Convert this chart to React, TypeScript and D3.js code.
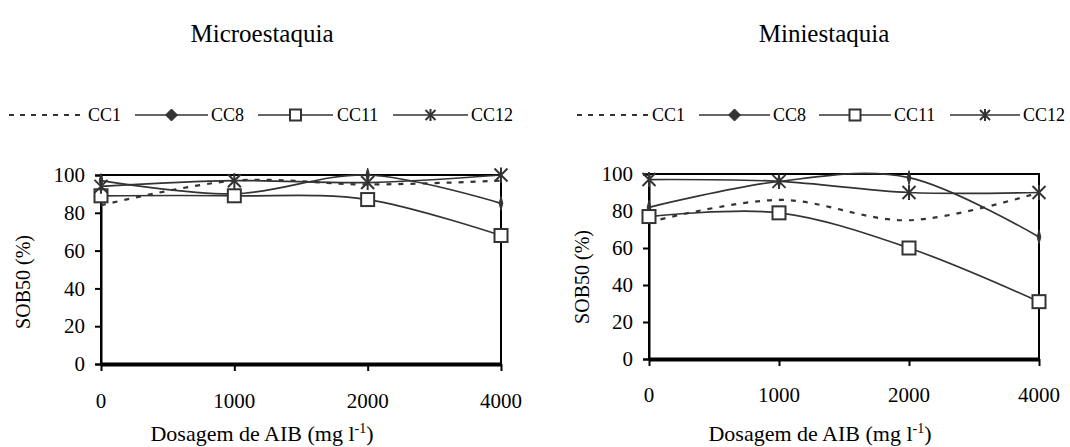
import React, { useEffect, useRef } from 'react';
import * as d3 from 'd3';

// dose categories (x axis) and y ticks
const doses = ['0', '1000', '2000', '4000'];
const yTicks = [0, 20, 40, 60, 80, 100];
const seriesNames = ['CC1', 'CC8', 'CC11', 'CC12'];

// Microestaquia
const microCC1 = [84, 97, 95, 97];
const microCC8 = [97, 90, 100, 85];
const microCC11 = [89, 89, 87, 68];
const microCC12 = [94, 97, 96, 100];

// Miniestaquia
const miniCC1 = [74, 86, 75, 90];
const miniCC8 = [82, 96, 98, 66];
const miniCC11 = [77, 79, 60, 31];
const miniCC12 = [97, 96, 90, 90];

const panelTitles = ['Microestaquia', 'Miniestaquia'];
const yTitle = 'SOB50 (%)';
const xTitle = 'Dosagem de AIB (mg l';

const FONT = '"Liberation Serif", "Times New Roman", serif';
const INK = '#333';

const App = () => {
  const ref = useRef(null);

  useEffect(() => {
    const svg = d3.select(ref.current);
    svg.selectAll('*').remove();

    const panels = [
      {
        title: panelTitles[0],
        data: [microCC1, microCC8, microCC11, microCC12],
        left: 101, right: 501, top: 175, bottom: 364,
        titleX: 262, titleY: 42,
        legendY: 115,
        legend: [[9, 83, 88], [135, 208, 211], [258, 333, 337], [393, 468, 471]],
        xLabelY: 408, xTitleX: 262, xTitleY: 441,
        yTitleX: 30, yTitleY: 282,
      },
      {
        title: panelTitles[1],
        data: [miniCC1, miniCC8, miniCC11, miniCC12],
        left: 649, right: 1039, top: 174, bottom: 359,
        titleX: 824, titleY: 42,
        legendY: 115,
        legend: [[577, 648, 652], [699, 770, 773], [819, 891, 894], [950, 1020, 1023]],
        xLabelY: 402, xTitleX: 820, xTitleY: 441,
        yTitleX: 589, yTitleY: 277,
      },
    ];

    const diamondSmall = 'M0,-7L1.8,0L0,7L-1.8,0Z';
    const diamondLegend = 'M0,-6L6,0L0,6L-6,0Z';

    const drawMarker = (g, idx, x, y, legend) => {
      if (idx === 1) {
        g.append('path')
          .attr('d', legend ? diamondLegend : diamondSmall)
          .attr('transform', `translate(${x},${y})`)
          .attr('fill', INK)
          .attr('stroke', INK)
          .attr('stroke-width', 1);
      } else if (idx === 2) {
        const s = legend ? 11 : 13;
        g.append('rect')
          .attr('x', x - s / 2)
          .attr('y', y - s / 2)
          .attr('width', s)
          .attr('height', s)
          .attr('fill', 'white')
          .attr('stroke', INK)
          .attr('stroke-width', 2);
      } else if (idx === 3) {
        const r = legend ? 5 : 6.5;
        const m = g.append('g').attr('transform', `translate(${x},${y})`)
          .attr('stroke', INK).attr('stroke-width', 2);
        m.append('line').attr('x1', -r).attr('y1', -r).attr('x2', r).attr('y2', r);
        m.append('line').attr('x1', -r).attr('y1', r).attr('x2', r).attr('y2', -r);
        m.append('line').attr('x1', 0).attr('y1', -r - 1).attr('x2', 0).attr('y2', r + 1);
      }
    };

    panels.forEach(p => {
      const g = svg.append('g');
      const x = d3.scalePoint().domain(doses).range([p.left, p.right]);
      const y = d3.scaleLinear().domain([0, 100]).range([p.bottom, p.top]);

      // title
      g.append('text')
        .attr('x', p.titleX)
        .attr('y', p.titleY)
        .attr('text-anchor', 'middle')
        .style('font-family', FONT)
        .style('font-size', '25px')
        .text(p.title);

      // legend
      seriesNames.forEach((name, i) => {
        const [l0, l1, tx] = p.legend[i];
        g.append('line')
          .attr('x1', l0).attr('x2', l1)
          .attr('y1', p.legendY).attr('y2', p.legendY)
          .attr('stroke', INK)
          .attr('stroke-width', i === 0 ? 2 : 1.6)
          .attr('stroke-dasharray', i === 0 ? '5,6' : null);
        drawMarker(g, i, (l0 + l1) / 2, p.legendY, true);
        g.append('text')
          .attr('x', tx)
          .attr('y', p.legendY + 6)
          .style('font-family', FONT)
          .style('font-size', '18px')
          .text(name);
      });

      // plot frame
      g.append('rect')
        .attr('x', p.left).attr('y', p.top)
        .attr('width', p.right - p.left).attr('height', p.bottom - p.top)
        .attr('fill', 'none')
        .attr('stroke', 'black')
        .attr('stroke-width', 2);

      // y axis
      const yAxis = g.append('g')
        .attr('transform', `translate(${p.left},0)`)
        .call(d3.axisLeft(y).tickValues(yTicks).tickSize(6).tickPadding(10));
      yAxis.select('.domain').attr('stroke', 'black').attr('stroke-width', 2);
      yAxis.selectAll('.tick line').attr('stroke', 'black').attr('stroke-width', 2);
      yAxis.selectAll('.tick text')
        .style('font-family', FONT)
        .style('font-size', '21px')
        .attr('fill', 'black');

      // x axis
      const xAxis = g.append('g')
        .attr('transform', `translate(0,${p.bottom})`)
        .call(d3.axisBottom(x).tickSize(7).tickSizeOuter(0).tickFormat(() => ''));
      xAxis.select('.domain').attr('stroke', 'black').attr('stroke-width', 4);
      xAxis.selectAll('.tick line').attr('stroke', 'black').attr('stroke-width', 2);
      doses.forEach(d => {
        g.append('text')
          .attr('x', x(d))
          .attr('y', p.xLabelY)
          .attr('text-anchor', 'middle')
          .style('font-family', FONT)
          .style('font-size', '21px')
          .text(d);
      });

      // axis titles
      const xt = g.append('text')
        .attr('x', p.xTitleX)
        .attr('y', p.xTitleY)
        .attr('text-anchor', 'middle')
        .style('font-family', FONT)
        .style('font-size', '22px');
      xt.append('tspan').text(xTitle);
      xt.append('tspan').attr('dy', -8).style('font-size', '14px').text('-1');
      xt.append('tspan').attr('dy', 8).text(')');

      g.append('text')
        .attr('transform', `translate(${p.yTitleX},${p.yTitleY}) rotate(-90)`)
        .attr('text-anchor', 'middle')
        .style('font-family', FONT)
        .style('font-size', '20px')
        .text(yTitle);

      // series lines
      const line = d3.line()
        .x((v, i) => x(doses[i]))
        .y(v => y(v))
        .curve(d3.curveCardinal.tension(0));
      p.data.forEach((vals, i) => {
        g.append('path')
          .attr('d', line(vals))
          .attr('fill', 'none')
          .attr('stroke', INK)
          .attr('stroke-width', i === 0 ? 2.2 : 1.7)
          .attr('stroke-dasharray', i === 0 ? '5,7' : null);
      });
      p.data.forEach((vals, i) => {
        vals.forEach((v, j) => drawMarker(g, i, x(doses[j]), y(v), false));
      });
    });
  }, []);

  return (
    <svg
      ref={ref}
      width={1070}
      height={447}
      style={{ position: 'absolute', left: 0, top: 0, background: 'white' }}
    />
  );
};

export default App;
